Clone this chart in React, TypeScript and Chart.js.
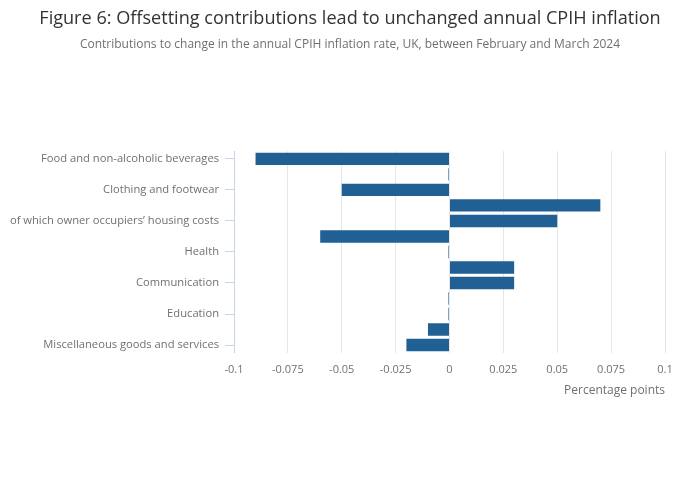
import React, { useEffect, useRef } from "react";
import { Chart, registerables } from "chart.js";

Chart.register(...registerables);

const categories = [
  "Food and non-alcoholic beverages",
  "Alcohol and tobacco",
  "Clothing and footwear",
  "Housing, water, electricity, gas and other fuels",
  "of which owner occupiers’ housing costs",
  "Furniture and household goods",
  "Health",
  "Transport",
  "Communication",
  "Recreation and culture",
  "Education",
  "Restaurants and hotels",
  "Miscellaneous goods and services",
];

const contributions = [-0.09, -0.0005, -0.05, 0.07, 0.05, -0.06, -0.0005, 0.03, 0.03, -0.0005, -0.0005, -0.01, -0.02];

const xTicks = [-0.1, -0.075, -0.05, -0.025, 0, 0.025, 0.05, 0.075, 0.1];

const FONT = "'Open Sans', sans-serif";

export default function App() {
  const ref = useRef<HTMLCanvasElement | null>(null);

  useEffect(() => {
    if (!ref.current) return;
    const chart = new Chart(ref.current, {
      type: "bar",
      data: {
        labels: categories,
        datasets: [
          {
            data: contributions,
            backgroundColor: "#206095",
            borderWidth: 0,
            barPercentage: 0.8,
            categoryPercentage: 1,
          },
        ],
      },
      options: {
        indexAxis: "y",
        animation: false,
        responsive: true,
        maintainAspectRatio: false,
        layout: { padding: { left: 0, right: 0, top: 0, bottom: 99.6 } },
        plugins: {
          legend: { display: false },
          tooltip: { enabled: false },
          title: {
            display: true,
            text: "Figure 6: Offsetting contributions lead to unchanged annual CPIH inflation",
            color: "#333333",
            font: { family: FONT, size: 18.1, weight: "normal" },
            padding: { top: 8, bottom: 4 },
          },
          subtitle: {
            display: true,
            text: "Contributions to change in the annual CPIH inflation rate, UK, between February and March 2024",
            color: "#707070",
            font: { family: FONT, size: 12, weight: "normal" },
            padding: { top: 4, bottom: 99 },
          },
        },
        scales: {
          x: {
            type: "linear",
            min: -0.1,
            max: 0.1,
            afterBuildTicks: (scale: any) => {
              scale.ticks = xTicks.map((v) => ({ value: v }));
            },
            ticks: {
              color: "#707070",
              font: { family: FONT, size: 11 },
              padding: 10,
              callback: (v: any) => String(Number(v)),
            },
            grid: { color: "#e6e6e6", drawTicks: false, lineWidth: 1 },
            border: { display: false },
            title: {
              display: true,
              text: "Percentage points",
              align: "end",
              color: "#707070",
              font: { family: FONT, size: 12 },
              padding: { top: -3, bottom: 5 },
            },
          },
          y: {
            afterFit: (scale: any) => {
              scale.width = 234;
            },
            ticks: {
              autoSkip: false,
              color: "#707070",
              font: { family: FONT, size: 11.2 },
              padding: 6,
              callback: (_v: any, i: number) => (i % 2 === 0 ? categories[i] : ""),
            },
            grid: {
              offset: false,
              drawOnChartArea: false,
              drawTicks: true,
              tickLength: 9,
              color: (ctx: any) => (ctx.index % 2 === 0 ? "#c8d4e8" : "rgba(0,0,0,0)"),
            },
            border: { display: true, color: "#c8d4e8", width: 1 },
          },
          spacer: {
            type: "category",
            position: "right",
            axis: "y",
            display: true,
            afterFit: (scale: any) => {
              scale.width = 35;
            },
            ticks: { display: false },
            grid: { display: false, drawTicks: false },
            border: { display: false },
          },
        },
      },
    } as any);
    return () => chart.destroy();
  }, []);

  return (
    <div style={{ position: "absolute", left: 0, top: 0, width: 700, height: 502, background: "#fff" }}>
      <canvas ref={ref} />
    </div>
  );
}
